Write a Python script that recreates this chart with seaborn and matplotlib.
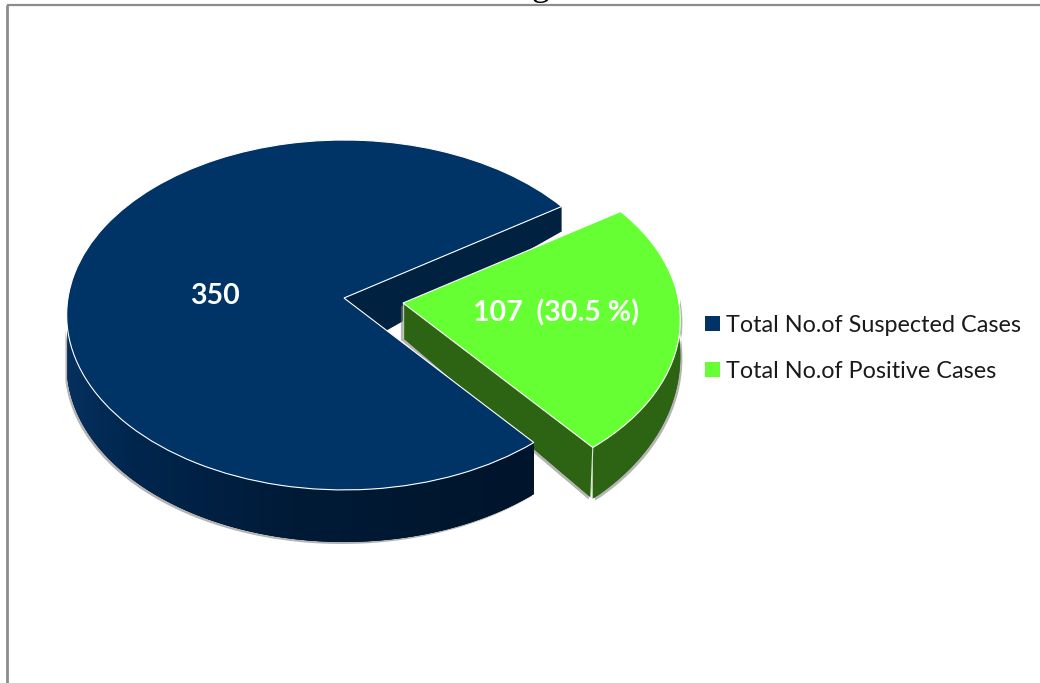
import numpy as np
import matplotlib
matplotlib.use("Agg")
import matplotlib.pyplot as plt
import matplotlib.patheffects as pe
from matplotlib.colors import LinearSegmentedColormap
from matplotlib.patches import Polygon
from matplotlib.transforms import Transform
import seaborn as sns

categories = ["Total No.of Suspected Cases", "Total No.of Positive Cases"]
values = [350, 107]
value_labels = ["350", "107  (30.5 %)"]

sns.set_theme(style="white")
plt.rcParams["font.family"] = ["Lato", "DejaVu Sans"]
palette = sns.color_palette(["#003366", "#66FF33"])

RX, RY, K = 276.0, 173.3, 0.097


class Persp(Transform):
    input_dims = output_dims = 2

    def __init__(self, cx, cy):
        super().__init__()
        self.cx, self.cy = cx, cy

    def transform_non_affine(self, xy):
        xy = np.asarray(xy, float)
        w = 1 + K * xy[:, 1]
        return np.column_stack([self.cx + RX * xy[:, 0] / w, self.cy - RY * xy[:, 1] / w])


def rim(theta1, theta2, centre):
    t = np.radians(np.linspace(theta1, theta2, 160))
    uv = np.column_stack([np.cos(t), np.sin(t)])
    return Persp(*centre).transform_non_affine(uv), uv[:, 1]


fig = plt.figure(figsize=(10.4, 6.83), dpi=100)
ax = fig.add_axes([0, 0, 1, 1])
wedges, _ = ax.pie(values, startangle=33.8, colors=palette, counterclock=True,
                   wedgeprops=dict(edgecolor="white", linewidth=0.8))
ax.set_aspect("auto")
ax.set_xlim(0, 1040)
ax.set_ylim(683, 0)
ax.axis("off")

main_c, pos_c = (344, 298), (403, 303)
main, pos = wedges
main.set_transform(Persp(*main_c) + ax.transData)
pos.set_transform(Persp(*pos_c) + ax.transData)

shadow = [pe.withSimplePatchShadow(offset=(-1.5, -1.5), shadow_rgbFace="#777777", alpha=0.55),
          pe.Normal()]
shadow_r = [pe.withSimplePatchShadow(offset=(1.5, -1.5), shadow_rgbFace="#777777", alpha=0.55),
            pe.Normal()]

# notch wall of the big slice
p0 = rim(main.theta1, main.theta1, main_c)[0][0]
ax.add_patch(Polygon([p0, p0 + (0, 25), (345, 354), main_c], fc="#00213F", ec="none", zorder=2))

# walls of the detached slice
arc, v = rim(pos.theta1, 362, pos_c)
depth = np.interp(v, [-0.755, 0.0], [51, 34])
wall_arc = np.vstack([arc, (arc + np.column_stack([0 * depth, depth]))[::-1]])
ax.add_patch(Polygon(wall_arc, fc="#2D6413", ec="none", zorder=3, path_effects=shadow_r))
tip = arc[0]
ax.add_patch(Polygon([pos_c, tip, tip + (-2, 50), (pos_c[0], pos_c[1] + 35)],
                     fc="#2D6413", ec="none", zorder=3, path_effects=shadow))
ax.plot([tip[0], tip[0] - 2], [tip[1], tip[1] + 50], color="#DDE8D5", lw=0.8, zorder=4)
ax.plot([pos_c[0]] * 2, [pos_c[1], pos_c[1] + 35], color="#B9C9AE", lw=1.0, zorder=4)

# outer wall of the big slice, shaded from left to right
arc, v = rim(190, main.theta2, main_c)
depth = np.interp(v, [-1, 0], [52, 50])
low = arc + np.column_stack([np.zeros_like(depth), depth])
wall = Polygon(np.vstack([arc, low[::-1]]), fc="#001A36", ec="none", zorder=6, path_effects=shadow)
ax.add_patch(wall)
cmap = LinearSegmentedColormap.from_list(
    "wall", [(0, "#06305E"), (0.14, "#00264E"), (0.5, "#001A36"), (1, "#00152B")])
im = ax.imshow(np.linspace(0, 1, 256)[None, :], cmap=cmap, aspect="auto",
               extent=(66, 534, 560, 300), zorder=6.1)
im.set_clip_path(wall)
ax.set_xlim(0, 1040)
ax.set_ylim(683, 0)
# each wall lies under its own top face
main.set_zorder(6.2)
pos.set_zorder(7)

ax.text(215, 296, value_labels[0], color="white", fontsize=20.5, fontweight="bold",
        ha="center", va="center", zorder=9)
ax.text(556, 313, value_labels[1], color="white", fontsize=20.5, fontweight="bold",
        ha="center", va="center", zorder=9)

leg = ax.legend(wedges, categories, loc="upper left", bbox_to_anchor=(0.678, 0.539),
                frameon=False, fontsize=16.8, labelcolor="#1a1a1a",
                handlelength=0.62, handleheight=0.62, handletextpad=0.28, labelspacing=1.08,
                borderpad=0, borderaxespad=0)
for h in leg.legend_handles:
    h.set_edgecolor("none")

# page frame and the clipped line of text above the chart
ax.plot([7, 1040], [5, 5], color="#8C8C8C", lw=1.6, zorder=1, solid_capstyle="butt")
ax.plot([7, 7], [5, 683], color="#8C8C8C", lw=2.0, zorder=1, solid_capstyle="butt")
ax.text(541, -5, "g", fontsize=26, family="Liberation Serif", ha="center", va="baseline",
        color="black", clip_on=True)

fig.savefig("out.png", dpi=100, facecolor="white")
